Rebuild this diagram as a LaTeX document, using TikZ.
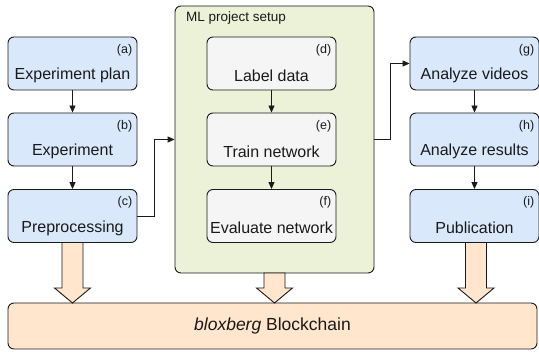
\documentclass[tikz,border=0pt]{standalone}
\usepackage{fontspec}
\setmainfont{Liberation Sans}
\usetikzlibrary{arrows.meta,calc}
\definecolor{bluef}{HTML}{DAE8FC}
\definecolor{grayf}{HTML}{F5F5F5}
\definecolor{greenf}{HTML}{ECF2D8}
\definecolor{orangef}{HTML}{FFE6CC}
\definecolor{edgec}{HTML}{1A1A1A}
\tikzset{
  boxst/.style={draw=edgec, line width=0.9pt, rounded corners=6pt, minimum width=129pt, minimum height=53pt, inner sep=0pt},
  tagst/.style={font=\fontsize{12.5}{14}\selectfont, text=edgec, inner sep=0pt},
  mainst/.style={font=\fontsize{16}{19}\selectfont, text=edgec, inner sep=0pt},
  arr/.style={draw=edgec, line width=0.9pt, -{Triangle[length=7pt,width=6pt]}},
  fat/.style={draw=edgec, line width=0.9pt, fill=orangef, line join=miter}
}
\newcommand\mybox[6]{%
  \node[boxst,fill=#4] (#1) at (#2,#3) {};
  \node[tagst,anchor=east] at ([shift={(-5,13.5)}]#1.north east) {(#5)};
  \node[mainst] at ([shift={(0,39)}]#1.north) {#6};
}
\newcommand\fatarr[3]{%
  \draw[fat] (#1-10.5,#2) -- (#1+10.5,#2) -- (#1+10.5,#3-15) -- (#1+18,#3-15) -- (#1,#3) -- (#1-18,#3-15) -- (#1-10.5,#3-15) -- cycle;
}
\begin{document}
\begin{tikzpicture}[x=1pt,y=-1pt]
\useasboundingbox (0,0) rectangle (539,352);
% container
\node[draw=edgec, line width=0.9pt, fill=greenf, rounded corners=6pt, minimum width=199pt, minimum height=267pt, inner sep=0pt] (ml) at (274.5,139.5) {};
\node[font=\fontsize{13.5}{16}\selectfont, text=edgec, anchor=west, inner sep=0pt] (mltitle) at (186,18) {ML project setup};
% boxes
\mybox{a}{72.5}{63.5}{bluef}{a}{Experiment plan}
\mybox{b}{72.5}{139.5}{bluef}{b}{Experiment}
\mybox{c}{72.5}{216}{bluef}{c}{Preprocessing}
\mybox{d}{271.5}{63.5}{grayf}{d}{Label data}
\mybox{e}{271.5}{139.5}{grayf}{e}{Train network}
\mybox{f}{271.5}{216}{grayf}{f}{Evaluate network}
\mybox{g}{474.5}{63.5}{bluef}{g}{Analyze videos}
\mybox{h}{474.5}{139.5}{bluef}{h}{Analyze results}
\mybox{i}{474.5}{216}{bluef}{i}{Publication}
% connectors
\draw[arr] (a) -- (b);
\draw[arr] (b) -- (c);
\draw[arr] (d) -- (e);
\draw[arr] (e) -- (f);
\draw[arr] (g) -- (h);
\draw[arr] (h) -- (i);
\draw[arr] (c.east) -- ++(17,0) |- (ml.west);
\draw[arr] (ml.east) -- ++(16,0) |- (g.west);
% blockchain
\node[draw=edgec, line width=0.9pt, fill=orangef, rounded corners=6pt, minimum width=529pt, minimum height=46pt, inner sep=0pt, font=\fontsize{17.5}{20}\selectfont, text=edgec] (bc) at (272.5,326) {\itshape bloxberg\upshape\ Blockchain};
% fat arrows
\fatarr{72.5}{242.5}{303}
\fatarr{274.5}{273}{303}
\fatarr{476}{242.5}{303}
\end{tikzpicture}
\end{document}
